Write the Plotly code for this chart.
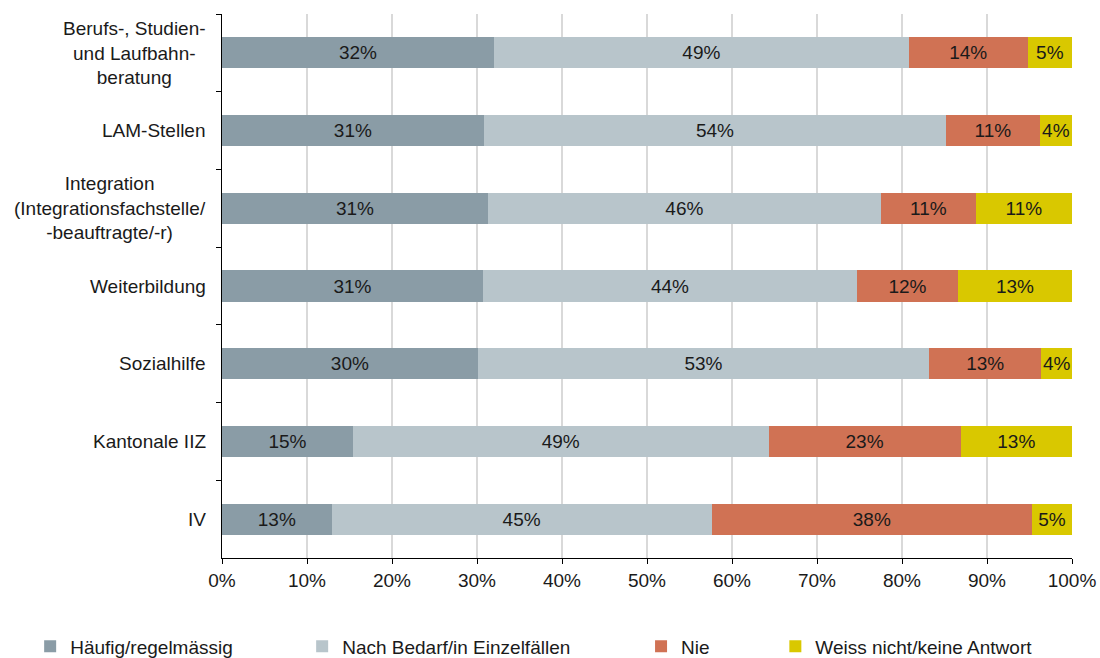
import plotly.graph_objects as go

# Categories (top to bottom) and answer shares per category
categories = [
    "Berufs-, Studien-<br>und Laufbahn-<br>beratung",
    "LAM-Stellen",
    "Integration<br>(Integrationsfachstelle/<br>-beauftragte/-r)",
    "Weiterbildung",
    "Sozialhilfe",
    "Kantonale IIZ",
    "IV",
]
haeufig = [32.0, 30.8, 31.3, 30.7, 30.1, 15.4, 12.9]
bedarf = [48.8, 54.4, 46.2, 44.0, 53.1, 48.9, 44.7]
nie = [14.0, 11.0, 11.2, 11.9, 13.2, 22.6, 37.7]
weiss = [5.2, 3.8, 11.3, 13.4, 3.6, 13.1, 4.7]

series_names = [
    "Häufig/regelmässig",
    "Nach Bedarf/in Einzelfällen",
    "Nie",
    "Weiss nicht/keine Antwort",
]
series_values = [haeufig, bedarf, nie, weiss]
colors = ["#8A9CA6", "#B8C5CB", "#D07254", "#D9C800"]

x_ticks = [i / 10 for i in range(11)]
x_tick_text = [f"{i * 10}%" for i in range(11)]

FONT = "Liberation Sans, Arial, sans-serif"
FSIZE = 19
TXT = "#1a1a1a"

fig = go.Figure()
legend_x = [-0.2257, 0.0943, 0.4930, 0.6510]
for i, (name, vals, col) in enumerate(zip(series_names, series_values, colors)):
    fracs = [v / 100 for v in vals]
    fig.add_trace(go.Bar(
        y=categories,
        x=fracs,
        name=name,
        orientation="h",
        marker=dict(color=col, line=dict(width=0)),
        text=[f"{round(v):.0f}%" for v in vals],
        textposition="inside",
        insidetextanchor="middle",
        textangle=0,
        constraintext="none",
        textfont=dict(family=FONT, size=FSIZE, color=TXT),
        width=0.4,
        legend="legend" if i == 0 else f"legend{i + 1}",
        hoverinfo="skip",
    ))

legend_common = dict(
    orientation="h",
    yanchor="middle",
    y=-0.1625,
    xanchor="left",
    font=dict(family=FONT, size=FSIZE, color=TXT),
    bgcolor="rgba(0,0,0,0)",
)
layout_legends = {}
for i, lx in enumerate(legend_x):
    key = "legend" if i == 0 else f"legend{i + 1}"
    layout_legends[key] = dict(legend_common, x=lx)

# Category labels drawn as centred multi-line annotations
annotations = [
    dict(
        x=0, xref="paper", y=cat, yref="y",
        text=cat, showarrow=False,
        xanchor="right", yanchor="middle", align="center",
        xshift=-14,
        font=dict(family=FONT, size=FSIZE, color=TXT),
    )
    for cat in categories
]

fig.update_layout(
    width=1100,
    height=658,
    barmode="stack",
    plot_bgcolor="white",
    paper_bgcolor="white",
    margin=dict(l=222, r=28, t=14, b=100, autoexpand=False),
    font=dict(family=FONT, size=FSIZE, color=TXT),
    showlegend=True,
    annotations=annotations,
    xaxis=dict(
        range=[0, 1],
        tickvals=x_ticks,
        ticktext=x_tick_text,
        showgrid=True,
        gridcolor="#D9D9D9",
        gridwidth=2,
        zeroline=False,
        showline=True,
        linecolor="#000000",
        linewidth=1,
        ticks="outside",
        ticklen=5,
        tickcolor="#000000",
        tickfont=dict(family=FONT, size=FSIZE, color=TXT),
        fixedrange=True,
    ),
    yaxis=dict(
        type="category",
        categoryorder="array",
        categoryarray=categories,
        autorange="reversed",
        tickson="boundaries",
        ticks="outside",
        ticklen=5,
        tickcolor="#000000",
        showticklabels=False,
        showgrid=False,
        showline=True,
        linecolor="#000000",
        linewidth=1,
        fixedrange=True,
    ),
    **layout_legends,
)

fig.write_html("out.html")
